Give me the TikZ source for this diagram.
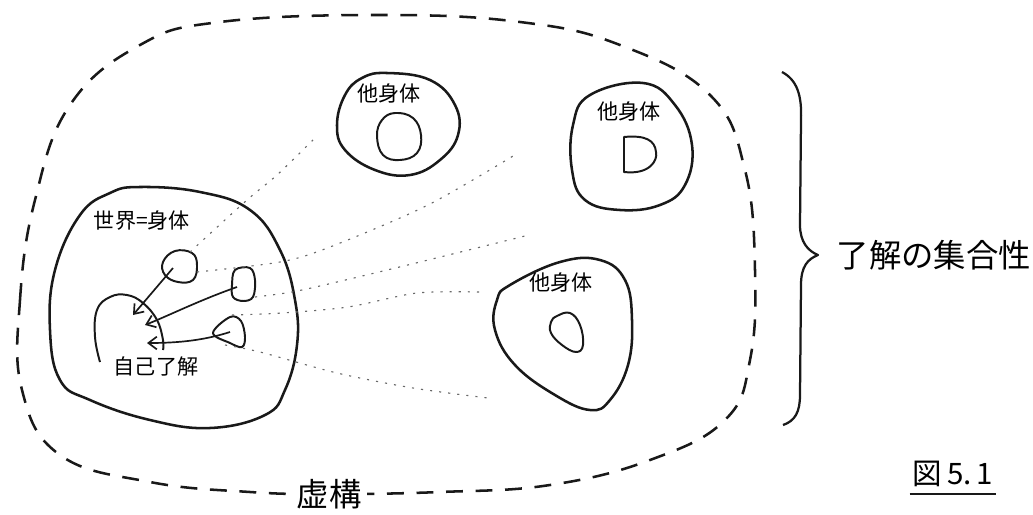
\documentclass[tikz,border=0pt]{standalone}
\usepackage{fontspec}
\newfontfamily\jfont{Noto Sans CJK JP}
\usetikzlibrary{arrows.meta,positioning}
\definecolor{cInk}{RGB}{25,25,25}
\definecolor{cDot}{RGB}{105,105,105}

\begin{document}
\begin{tikzpicture}[x=0.025cm,y=-0.025cm,
   body/.style={draw=cInk,line width=1.8pt,line join=round},
   core/.style={draw=cInk,line width=1.4pt,line join=round},
   fict/.style={draw=cInk,line width=1.8pt,dash pattern=on 12pt off 9pt},
   ray/.style={draw=cDot,line width=0.8pt,dash pattern=on 1.5pt off 5pt},
   a/.style={-{Straight Barb[length=6pt,width=9pt]},cInk,line width=1.2pt},
   lbl/.style={font=\jfont\fontsize{15}{17}\selectfont,inner sep=1pt},
   big/.style={font=\jfont\fontsize{23}{26}\selectfont,inner sep=1pt}]
  \useasboundingbox (0,0) rectangle (1033,514);

  % outer dashed region
  \draw[fict] plot[smooth cycle,tension=0.7] coordinates {
    (22,390) (20,300) (35,200) (70,105) (140,45) (220,22) (380,15) (520,22)
    (620,45) (710,95) (745,170) (755,270) (750,360) (725,420) (650,460)
    (550,485) (440,492) (330,494) (250,492) (150,482) (60,455)};
  \node[big,fill=white,inner xsep=4pt] (fic) at (329,494) {虚構};

  % own body
  \draw[body] plot[smooth cycle,tension=0.7] coordinates {
    (140,187) (200,192) (250,210) (280,250) (295,300) (297,345) (285,390)
    (265,415) (210,428) (150,420) (90,400) (60,380) (50,330) (55,270)
    (80,215) (110,193)};
  \node[lbl] (world) at (142,221) {世界=身体};

  \draw[core] plot[smooth cycle,tension=0.7] coordinates {
    (175,251) (192,253) (197,265) (193,280) (178,282) (165,275) (163,262)};
  \draw[core] plot[smooth cycle,tension=0.6] coordinates {
    (235,270) (250,268) (255,280) (253,297) (243,301) (233,297) (232,285)};
  \draw[core] plot[smooth cycle,tension=0.6] coordinates {
    (213,333) (230,317) (241,321) (245,337) (242,347) (230,343)};
  \draw[core] plot[smooth,tension=0.7] coordinates {
    (100,362) (95,337) (97,310) (110,297) (127,295) (143,303) (157,320)
    (163,340) (163,350)};
  \node[lbl] (self) at (156,366) {自己了解};

  \coordinate (o1) at (173,268);
  \coordinate (o2) at (237,287);
  \coordinate (o3) at (230,332);
  \coordinate (s1) at (133,315);
  \coordinate (s2) at (145,325);
  \coordinate (s3) at (147,343);
  \draw[a] (o1) -- (s1);
  \draw[a] (o2) .. controls (200,300) and (170,315) .. (s2);
  \draw[a] (o3) .. controls (205,340) and (180,343) .. (s3);

  % other bodies
  \draw[body] plot[smooth cycle,tension=0.7] coordinates {
    (387,73) (430,80) (455,105) (458,135) (440,160) (410,175) (375,170)
    (345,150) (337,125) (345,95) (362,78)};
  \node[lbl] (ob1) at (389,93) {他身体};
  \draw[core] plot[smooth cycle,tension=0.7] coordinates {
    (395,113) (413,118) (421,135) (417,153) (400,160) (383,155) (377,136) (382,120)};

  \draw[body] plot[smooth cycle,tension=0.7] coordinates {
    (590,95) (643,83) (675,105) (692,145) (685,185) (660,205) (620,210)
    (585,200) (572,170) (573,125)};
  \node[lbl] (ob2) at (629,111) {他身体};
  \draw[core] (624,137) -- (624,172) .. controls (650,175) and (658,160) .. (656,152)
    .. controls (655,140) and (645,135) .. cycle;

  \draw[body] plot[smooth cycle,tension=0.7] coordinates {
    (510,285) (560,262) (600,260) (625,280) (632,320) (628,365) (610,400)
    (590,410) (555,395) (515,365) (495,330) (497,300)};
  \node[lbl] (ob3) at (561,282) {他身体};
  \draw[core] plot[smooth cycle,tension=0.7] coordinates {
    (557,316) (570,313) (580,325) (583,345) (576,352) (562,345) (551,333) (551,322)};

  % rays of understanding
  \draw[ray] plot[smooth] coordinates {(190,252) (247,200) (277,175) (313,140)};
  \draw[ray] plot[smooth] coordinates {(197,272) (280,262) (330,247) (428,205) (518,153)};
  \draw[ray] plot[smooth] coordinates {(255,297) (292,292) (337,282) (420,262) (525,236)};
  \draw[ray] plot[smooth] coordinates {(232,315) (282,313) (348,307) (417,293) (480,292)};
  \draw[ray] plot[smooth] coordinates {(225,345) (260,352) (337,373) (413,388) (488,398)};

  % brace
  \draw[body,line width=1.6pt] (782,72) .. controls (797,80) and (802,95) .. (801,120)
    -- (800,225) .. controls (800,242) and (808,251) .. (818,255)
    .. controls (808,259) and (801,266) .. (801,285)
    -- (800,395) .. controls (800,412) and (795,421) .. (783,425);
  \node[big,anchor=west] (coll) at (835,255) {了解の集合性};

  \node[font=\jfont\fontsize{21}{24}\selectfont,inner sep=2pt] (fig) at (953,474) {図\,5.\,1};
  \draw[cInk,line width=1.2pt] ([yshift=-3pt]fig.south west) -- ([yshift=-3pt]fig.south east);
\end{tikzpicture}
\end{document}
